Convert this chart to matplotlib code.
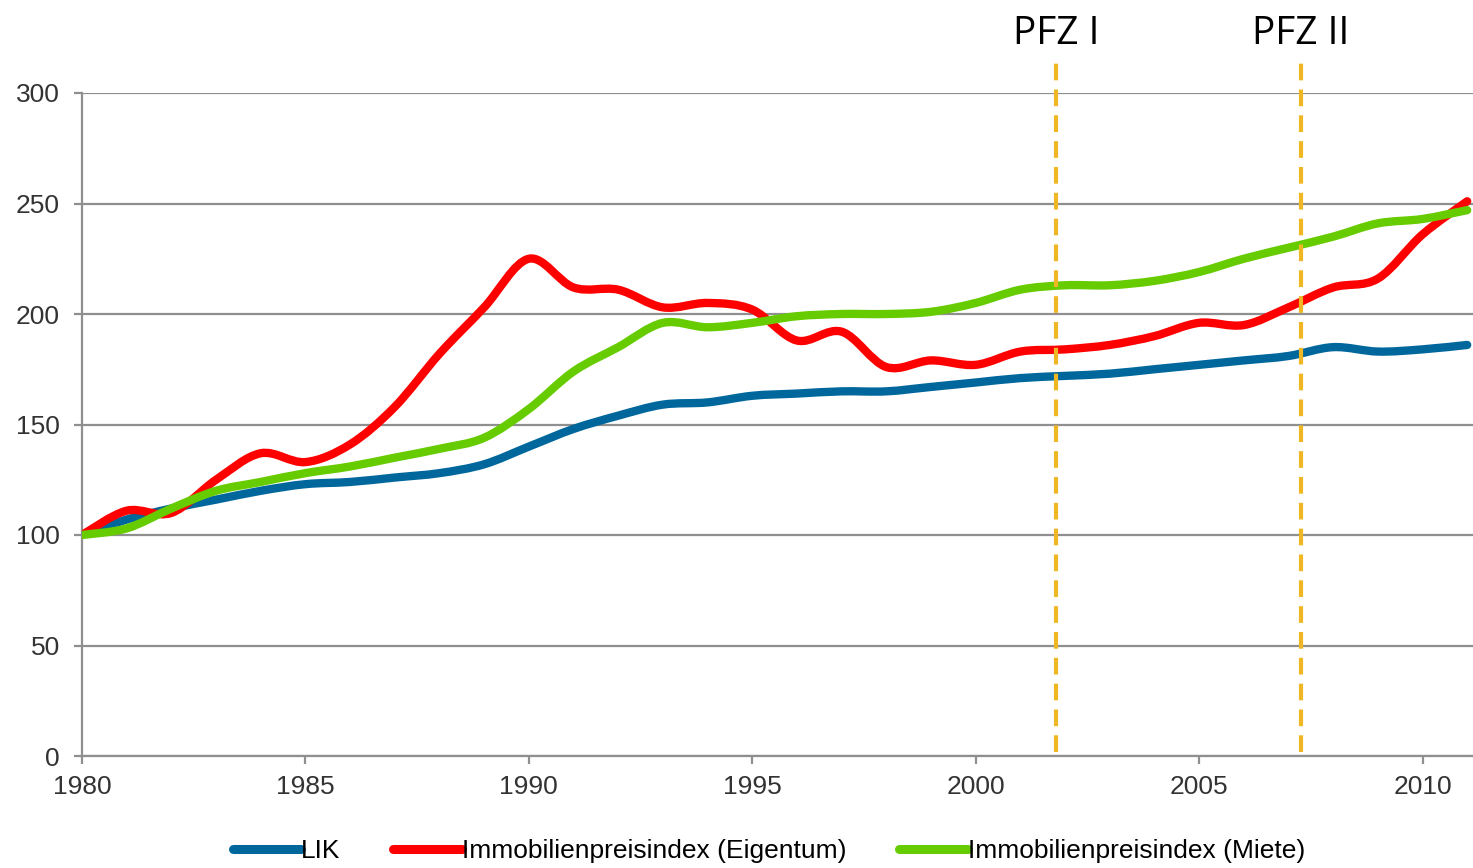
import numpy as np
import matplotlib
matplotlib.use("Agg")
import matplotlib.pyplot as plt
from matplotlib.path import Path
from matplotlib.patches import PathPatch
from matplotlib.lines import Line2D

# yearly index values (1980 = 100)
years = list(range(1980, 2012))
lik = [100, 107, 112, 116, 120, 123, 124, 126, 128, 132, 140, 148, 154, 159, 160, 163,
       164, 165, 165, 167, 169, 171, 172, 173, 175, 177, 179, 181, 185, 183, 184, 186]
eigentum = [100, 111, 110, 125, 137, 133, 141, 158, 182, 203, 225, 212, 211, 203, 205, 202,
            188, 192, 176, 179, 177, 183, 184, 186, 190, 196, 195, 203, 212, 216, 236, 251]
miete = [100, 103, 112, 120, 124, 128, 131, 135, 139, 144, 157, 174, 185, 196, 194, 196,
         199, 200, 200, 201, 205, 211, 213, 213, 215, 219, 225, 230, 235, 241, 243, 247]
series_names = ['LIK', 'Immobilienpreisindex (Eigentum)', 'Immobilienpreisindex (Miete)']
series_colors = ['#00679c', '#ff0000', '#66cc00']

pfz_years = [2001.8, 2007.27]
pfz_labels = ['PFZ I', 'PFZ II']


def smooth_path(x, y):
    # excel style smoothed line: cubic bezier through every point
    x = np.asarray(x, float)
    y = np.asarray(y, float)
    n = len(x)
    verts = [(x[0], y[0])]
    codes = [Path.MOVETO]
    for i in range(n - 1):
        i0 = max(i - 1, 0)
        i2 = min(i + 2, n - 1)
        c1 = (x[i] + (x[i + 1] - x[i0]) / 6, y[i] + (y[i + 1] - y[i0]) / 6)
        c2 = (x[i + 1] - (x[i2] - x[i]) / 6, y[i + 1] - (y[i2] - y[i]) / 6)
        verts += [c1, c2, (x[i + 1], y[i + 1])]
        codes += [Path.CURVE4] * 3
    return Path(verts, codes)


fig = plt.figure(figsize=(14.73, 8.68), dpi=100)
ax = fig.add_axes([82 / 1473, 1 - 756 / 868, 1 - 82 / 1473, (756 - 93) / 868])

for vals, col in zip([lik, eigentum, miete], series_colors):
    p = PathPatch(smooth_path(years, vals), facecolor='none', edgecolor=col,
                  lw=6, capstyle='round', joinstyle='round', zorder=3)
    ax.add_patch(p)

for yr, lab in zip(pfz_years, pfz_labels):
    ax.plot([yr, yr], [2, 314], color='#efb723', lw=3, ls=(0, (4, 2.2)),
            clip_on=False, zorder=4)
    ax.text(yr, 318, lab, ha='center', va='bottom', fontsize=28,
            family='Open Sans', color='black')

ax.set_xlim(1980, 2011.13)
ax.set_ylim(0, 300)
ax.set_xticks(range(1980, 2011, 5))
ax.set_yticks(range(0, 301, 50))
ax.yaxis.grid(True, color='#8f8f8f', lw=1.6, zorder=1)
ax.set_axisbelow(True)
for s in ['top', 'right']:
    ax.spines[s].set_visible(False)
for s in ['left', 'bottom']:
    ax.spines[s].set_color('#8f8f8f')
    ax.spines[s].set_linewidth(1.6)
ax.tick_params(axis='both', colors='#8f8f8f', width=1.6, length=6,
               labelsize=19, labelcolor='#333333')
ax.tick_params(axis='y', pad=10)
ax.tick_params(axis='x', pad=8)
for t in ax.get_xticklabels() + ax.get_yticklabels():
    t.set_family('Liberation Sans')

handles = [Line2D([], [], color=c, lw=6.5, solid_capstyle='round') for c in series_colors]
fig.legend(handles, series_names, loc='lower center', bbox_to_anchor=(0.522, -0.022),
           ncol=3, frameon=False, handlelength=2.6, handletextpad=0.0,
           columnspacing=2.0, prop={'family': 'Liberation Sans', 'size': 19})

fig.savefig('out.png', dpi=100)
